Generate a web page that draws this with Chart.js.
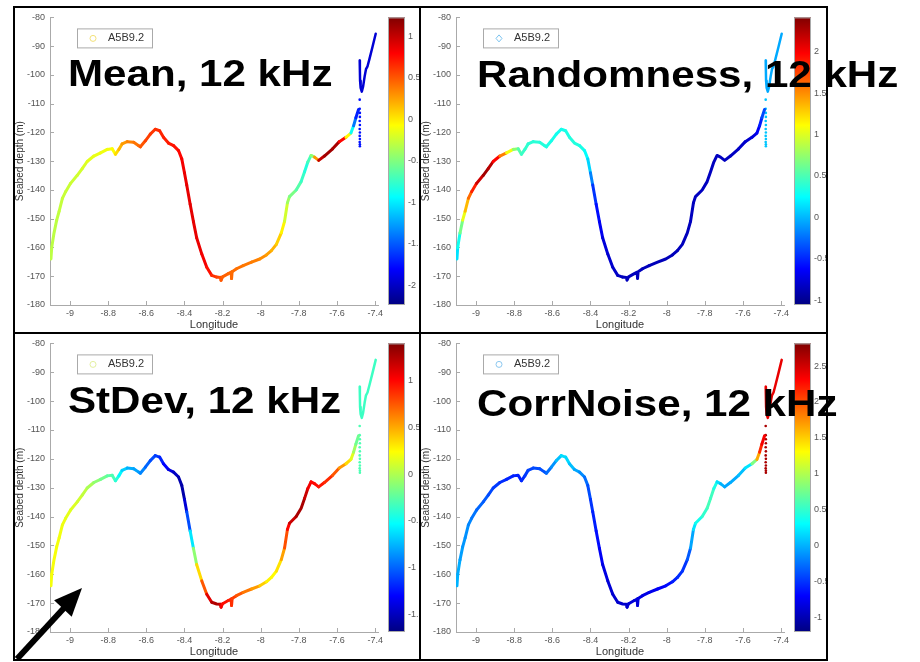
<!DOCTYPE html>
<html>
<head>
<meta charset="utf-8">
<script src="https://cdn.jsdelivr.net/npm/chart.js@4.4.0/dist/chart.umd.min.js"></script>
<style>
body { margin: 0; background: #fff; width: 920px; height: 662px; overflow: hidden; position: relative; font-family: "Liberation Sans", Arial, sans-serif; }
canvas { position: absolute; }
.line { position: absolute; background: #000; }
.title { position: absolute; font-weight: bold; font-size: 36px; line-height: 36px; white-space: nowrap; transform: scaleX(1.17); transform-origin: 0 0; color: #000; z-index: 5; }
svg { position: absolute; left: 0; top: 0; z-index: 6; }
</style>
</head>
<body>
<canvas id="c1" width="406" height="326" style="left:14px;top:7px"></canvas>
<canvas id="c2" width="407" height="326" style="left:420px;top:7px"></canvas>
<canvas id="c3" width="406" height="327" style="left:14px;top:333px"></canvas>
<canvas id="c4" width="407" height="327" style="left:420px;top:333px"></canvas>

<div class="line" style="left:13px;top:6px;width:815px;height:2px"></div>
<div class="line" style="left:13px;top:332px;width:815px;height:2px"></div>
<div class="line" style="left:13px;top:659px;width:815px;height:2px"></div>
<div class="line" style="left:13px;top:6px;width:2px;height:655px"></div>
<div class="line" style="left:419px;top:6px;width:2px;height:655px"></div>
<div class="line" style="left:826px;top:6px;width:2px;height:655px"></div>

<div class="title" style="left:68px;top:56px">Mean, 12 kHz</div>
<div class="title" style="left:477px;top:57px">Randomness, 12 kHz</div>
<div class="title" style="left:68px;top:383px">StDev, 12 kHz</div>
<div class="title" style="left:477px;top:386px">CorrNoise, 12 kHz</div>

<svg width="920" height="662">
  <line x1="17" y1="659" x2="64" y2="608" stroke="#000" stroke-width="6"/>
  <polygon points="82,588 71.7,616.7 54.1,600.3" fill="#000"/>
</svg>

<script>
// seabed profile along the track (longitude, depth in m)
const lon = [-9.100, -9.096, -9.084, -9.070, -9.057, -9.040, -9.023, -8.997, -8.962, -8.936,
  -8.910, -8.875, -8.840, -8.805, -8.779, -8.762, -8.744, -8.727, -8.700, -8.666,
  -8.640, -8.631, -8.605, -8.579, -8.553, -8.530, -8.510, -8.484, -8.457, -8.431,
  -8.414, -8.400, -8.388, -8.370, -8.353, -8.336, -8.309, -8.283, -8.257, -8.231,
  -8.212, -8.208, -8.200, -8.170, -8.155, -8.153, -8.150, -8.127, -8.092, -8.048,
  -8.005, -7.970, -7.944, -7.918, -7.892, -7.875, -7.860, -7.849, -7.814, -7.788,
  -7.770, -7.753, -7.736, -7.718, -7.696, -7.666, -7.623, -7.588, -7.553, -7.527,
  -7.513, -7.501, -7.487];
const depth = [-164.0, -160.0, -155.0, -150.5, -147.4, -142.9, -140.6, -137.7, -134.9, -132.6,
  -130.1, -128.2, -127.1, -125.9, -125.7, -127.6, -125.9, -124.0, -123.2, -123.4,
  -124.6, -125.0, -122.9, -120.6, -118.9, -119.4, -121.7, -123.7, -124.6, -126.3,
  -129.2, -134.0, -138.3, -145.0, -151.0, -156.6, -162.3, -166.9, -169.7, -170.3,
  -170.4, -171.4, -170.2, -169.1, -168.6, -170.8, -168.4, -167.4, -166.3, -165.1,
  -164.0, -162.6, -161.1, -158.9, -154.9, -150.9, -144.5, -142.3, -140.0, -137.1,
  -133.7, -130.3, -128.0, -128.6, -129.7, -128.2, -125.7, -123.2, -121.7, -120.2,
  -117.7, -114.9, -112.0];

// colour values per panel (same points as above)
const meanVals = [-0.30, -0.30, -0.30, -0.30, -0.28, -0.27, -0.26, -0.25, -0.24, -0.22,
  -0.18, -0.15, -0.13, -0.12, -0.10, -0.05, 0.15, 0.22, 0.32, 0.38,
  0.42, 0.45, 0.55, 0.60, 0.62, 0.65, 0.68, 0.70, 0.72, 0.75,
  0.80, 0.85, 0.87, 0.88, 0.88, 0.87, 0.85, 0.80, 0.68, 0.60,
  0.55, 0.50, 0.48, 0.45, 0.44, 0.44, 0.43, 0.42, 0.40, 0.38,
  0.35, 0.28, 0.22, 0.15, 0.02, -0.10, -0.35, -0.45, -0.60, -0.70,
  -0.80, -0.85, -0.55, -0.35, 0.90, 1.10, 1.12, 1.05, 0.50, -0.60,
  -1.20, -1.60, -1.80];
const randVals = [0.10, 0.20, 0.40, 0.90, 1.20, 1.50, 1.75, 2.00, 2.30, 2.30,
  2.15, 1.80, 1.30, 0.85, 0.60, 0.45, 0.42, 0.40, 0.38, 0.38,
  0.36, 0.35, 0.33, 0.30, 0.30, 0.32, 0.35, 0.36, 0.35, 0.30,
  0.20, 0.00, -0.35, -0.55, -0.62, -0.72, -0.78, -0.80, -0.82, -0.85,
  -0.85, -0.85, -0.85, -0.85, -0.85, -0.85, -0.85, -0.85, -0.86, -0.86,
  -0.86, -0.86, -0.85, -0.85, -0.85, -0.85, -0.84, -0.84, -0.84, -0.84,
  -0.84, -0.84, -0.84, -0.84, -0.84, -0.84, -0.82, -0.80, -0.78, -0.70,
  -0.60, -0.45, -0.30];
const stdVals = [0.20, 0.22, 0.22, 0.22, 0.20, 0.20, 0.18, 0.15, 0.12, 0.08,
  0.02, -0.05, -0.15, -0.22, -0.30, -0.32, -0.50, -0.60, -0.75, -0.80,
  -0.82, -0.85, -0.95, -1.05, -1.10, -1.15, -1.25, -1.35, -1.45, -1.52,
  -1.58, -1.55, -1.30, -0.85, -0.35, 0.15, 0.55, 0.95, 1.25, 1.25,
  1.25, 1.05, 1.00, 0.95, 0.90, 0.88, 0.86, 0.80, 0.70, 0.60,
  0.48, 0.30, 0.25, 0.25, 0.40, 0.65, 0.90, 1.10, 1.25, 1.30,
  1.25, 1.10, 1.00, 1.00, 0.98, 0.92, 0.85, 0.65, 0.45, 0.25,
  0.05, -0.15, -0.25];
const noiseVals = [0.00, 0.00, -0.05, -0.10, -0.12, -0.15, -0.20, -0.28, -0.32, -0.38,
  -0.45, -0.50, -0.55, -0.58, -0.60, -0.58, -0.50, -0.45, -0.42, -0.40,
  -0.38, -0.35, -0.20, -0.05, 0.15, 0.20, 0.10, 0.00, -0.10, -0.20,
  -0.35, -0.45, -0.55, -0.62, -0.70, -0.78, -0.85, -0.88, -0.90, -0.90,
  -0.90, -0.90, -0.88, -0.86, -0.85, -0.85, -0.84, -0.82, -0.80, -0.75,
  -0.70, -0.62, -0.55, -0.50, -0.50, -0.20, 0.10, 0.30, 0.45, 0.55,
  0.60, 0.50, 0.30, 0.05, -0.05, -0.05, 0.00, 0.10, 0.30, 1.30,
  2.00, 2.30, 2.40];

// scattered pings at the east end
const colLon = [-7.481, -7.481, -7.480, -7.480, -7.481, -7.480, -7.481, -7.480, -7.481, -7.480, -7.481, -7.480, -7.480];
const colDepth = [-108.6, -111.8, -113.2, -114.6, -116.0, -117.4, -118.8, -120.0, -121.2, -122.3, -123.3, -124.1, -124.8];
const tailLon = [-7.481, -7.480, -7.479, -7.476, -7.470, -7.463, -7.455, -7.448, -7.440, -7.430, -7.414, -7.397];
const tailDepth = [-95.0, -98.5, -102.0, -104.5, -105.8, -104.0, -100.5, -98.0, -97.0, -94.5, -90.3, -85.7];
const colVals = [-1.75, 0.05, -0.30, 2.65];
const tailVals = [-1.95, -0.05, -0.35, 2.40];

const panelVals = [meanVals, randVals, stdVals, noiseVals];
const cbarMin = [-2.237, -1.06, -1.69, -1.206];
const cbarMax = [1.225, 2.417, 1.40, 2.816];
const legendMark = ['circle', 'diamond', 'circle', 'circle'];
const legendColor = ['#f3e27a', '#7cc4f0', '#e4f0a0', '#8cc8f0'];

function jet(v, lo, hi) {
    let t = (v - lo) / (hi - lo);
    t = Math.max(0, Math.min(1, t));
    const c = x => Math.round(255 * Math.max(0, Math.min(1, x)));
    return `rgb(${c(1.5 - Math.abs(4 * t - 3))},${c(1.5 - Math.abs(4 * t - 2))},${c(1.5 - Math.abs(4 * t - 1))})`;
}

function pts(xs, ys) {
    return xs.map((x, i) => ({ x: x, y: ys[i] }));
}

const fmt = v => String(Math.round(v * 10) / 10);
const tickFont = { family: 'Liberation Sans', size: 9 };

const panelPlugin = {
    id: 'panel',
    beforeDatasetsDraw(chart, args, opts) {
        const ctx = chart.ctx, a = chart.chartArea, c = chart.scales.c;
        const top = c.getPixelForValue(c.max), bot = c.getPixelForValue(c.min);
        const g = ctx.createLinearGradient(0, bot, 0, top);
        [[0, '#000080'], [0.125, '#0000ff'], [0.375, '#00ffff'], [0.625, '#ffff00'], [0.875, '#ff0000'], [1, '#800000']]
            .forEach(s => g.addColorStop(s[0], s[1]));
        ctx.save();
        ctx.fillStyle = g;
        ctx.fillRect(a.right + 10, top, 17, bot - top);
        ctx.strokeStyle = '#aaa';
        ctx.lineWidth = 1;
        ctx.strokeRect(a.right + 10.5, top + 0.5, 16, bot - top - 1);
        // inward tick marks, matlab style
        const xs = chart.scales.x, ys = chart.scales.y;
        ctx.beginPath();
        xs.ticks.forEach(t => {
            const px = Math.round(xs.getPixelForValue(t.value)) + 0.5;
            ctx.moveTo(px, a.bottom); ctx.lineTo(px, a.bottom - 4);
        });
        ys.ticks.forEach(t => {
            const py = Math.round(ys.getPixelForValue(t.value)) + 0.5;
            ctx.moveTo(a.left, py); ctx.lineTo(a.left + 4, py);
        });
        ctx.stroke();
        ctx.restore();
    },
    afterDraw(chart, args, opts) {
        const ctx = chart.ctx, a = chart.chartArea;
        const bx = a.left + 27, by = a.top + 11;
        ctx.save();
        ctx.fillStyle = '#fff';
        ctx.strokeStyle = '#aaa';
        ctx.lineWidth = 1;
        ctx.fillRect(bx, by, 75, 19);
        ctx.strokeRect(bx + 0.5, by + 0.5, 75, 19);
        ctx.strokeStyle = opts.color;
        ctx.lineWidth = 1;
        ctx.beginPath();
        const mx = bx + 16, my = by + 10;
        if (opts.mark === 'diamond') {
            ctx.moveTo(mx, my - 3.5); ctx.lineTo(mx + 3, my); ctx.lineTo(mx, my + 3.5); ctx.lineTo(mx - 3, my); ctx.closePath();
        } else {
            ctx.arc(mx, my, 3, 0, Math.PI * 2);
        }
        ctx.stroke();
        ctx.fillStyle = '#333';
        ctx.font = '11px "Liberation Sans", Arial, sans-serif';
        ctx.textBaseline = 'middle';
        ctx.fillText(chart.data.datasets[0].label, bx + 31, my);
        ctx.restore();
    }
};

function makePanel(id, k) {
    const vals = panelVals[k];
    const lo = cbarMin[k], hi = cbarMax[k];
    const canvas = document.getElementById(id);
    const rightW = canvas.width - 364;
    new Chart(canvas, {
        type: 'scatter',
        data: {
            datasets: [
                {
                    label: 'A5B9.2',
                    data: pts(lon, depth),
                    showLine: true,
                    borderWidth: 3,
                    pointRadius: 0,
                    borderCapStyle: 'round',
                    borderJoinStyle: 'round',
                    borderColor: jet(vals[0], lo, hi),
                    segment: {
                        borderColor: s => jet((vals[s.p0DataIndex] + vals[s.p1DataIndex]) / 2, lo, hi)
                    }
                },
                {
                    label: 'tail',
                    data: pts(tailLon, tailDepth),
                    showLine: true,
                    borderWidth: 2.5,
                    pointRadius: 0,
                    borderCapStyle: 'round',
                    borderJoinStyle: 'round',
                    borderColor: jet(tailVals[k], lo, hi)
                },
                {
                    label: 'pings',
                    data: pts(colLon, colDepth),
                    showLine: false,
                    pointRadius: 1.3,
                    pointBorderWidth: 0,
                    pointBackgroundColor: jet(colVals[k], lo, hi)
                }
            ]
        },
        options: {
            responsive: false,
            animation: false,
            devicePixelRatio: 1,
            layout: { padding: { top: 6, left: 0, right: 0, bottom: 0 } },
            plugins: {
                legend: { display: false },
                tooltip: { enabled: false },
                panel: { mark: legendMark[k], color: legendColor[k] }
            },
            scales: {
                x: {
                    type: 'linear',
                    position: 'bottom',
                    min: -9.105,
                    max: -7.385,
                    afterFit: s => { s.height = 28; },
                    grid: { drawOnChartArea: false, drawTicks: false },
                    border: { color: '#aaa' },
                    ticks: { stepSize: 0.2, includeBounds: false, autoSkip: false, maxRotation: 0, padding: 3, font: tickFont, color: '#555', callback: fmt },
                    title: { display: true, text: 'Longitude', color: '#333', font: { family: 'Liberation Sans', size: 11 }, padding: { top: 0, bottom: 1 } }
                },
                y: {
                    type: 'linear',
                    position: 'left',
                    min: -180,
                    max: -80,
                    afterFit: s => { s.width = 36; },
                    grid: { drawOnChartArea: false, drawTicks: false },
                    border: { color: '#aaa' },
                    ticks: { stepSize: 10, includeBounds: false, padding: 5, font: tickFont, color: '#555', callback: fmt },
                    title: { display: true, text: 'Seabed depth (m)', color: '#333', font: { family: 'Liberation Sans', size: 10 }, padding: { top: 0, bottom: 0 } }
                },
                c: {
                    type: 'linear',
                    position: 'right',
                    display: true,
                    min: lo,
                    max: hi,
                    afterFit: s => { s.width = rightW; },
                    grid: { drawOnChartArea: false, drawTicks: true, tickLength: 27, color: 'rgba(0,0,0,0)' },
                    border: { display: false },
                    ticks: { stepSize: 0.5, includeBounds: false, padding: 3, font: tickFont, color: '#555', callback: fmt }
                }
            }
        },
        plugins: [panelPlugin]
    });
}

makePanel('c1', 0);
makePanel('c2', 1);
makePanel('c3', 2);
makePanel('c4', 3);
</script>
</body>
</html>
